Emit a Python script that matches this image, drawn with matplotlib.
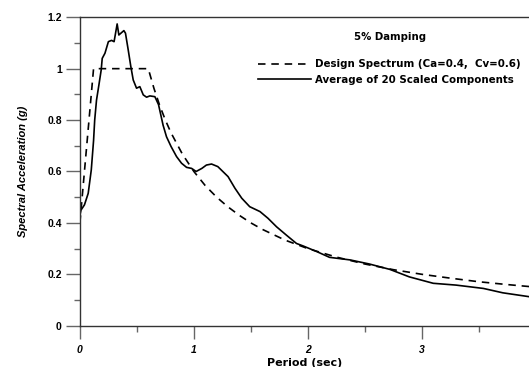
import matplotlib
matplotlib.use("Agg")
import matplotlib.pyplot as plt
from matplotlib.ticker import MultipleLocator

plt.rcParams['font.family'] = ['Liberation Sans', 'DejaVu Sans']

# Design spectrum (Ca=0.4, Cv=0.6)
design_T = [0.0, 0.12, 0.6, 0.65, 0.7, 0.75, 0.8, 0.9, 1.0, 1.1, 1.2, 1.3, 1.4, 1.5, 1.6,
            1.8, 2.0, 2.25, 2.5, 2.75, 3.0, 3.25, 3.5, 3.75, 4.0]
design_Sa = [0.40, 1.00, 1.00, 0.923, 0.857, 0.80, 0.75, 0.667, 0.60, 0.545, 0.50, 0.462,
             0.429, 0.40, 0.375, 0.333, 0.30, 0.267, 0.24, 0.218, 0.20, 0.185, 0.171,
             0.16, 0.15]

# Average of 20 scaled components
avg_T = [0.0, 0.01, 0.04, 0.073, 0.10, 0.12, 0.13, 0.146, 0.167, 0.187, 0.196, 0.22,
         0.25, 0.278, 0.30, 0.313, 0.327, 0.342, 0.36, 0.386, 0.40, 0.424, 0.447,
         0.468, 0.497, 0.526, 0.556, 0.585, 0.614, 0.658, 0.69, 0.73, 0.76, 0.80,
         0.848, 0.892, 0.936, 0.98, 1.02, 1.07, 1.11, 1.155, 1.21, 1.30, 1.36, 1.42,
         1.49, 1.58, 1.65, 1.725, 1.81, 1.90, 1.96, 2.08, 2.19, 2.37, 2.54, 2.72,
         2.89, 3.10, 3.30, 3.54, 3.71, 3.94]
avg_Sa = [0.43, 0.45, 0.47, 0.515, 0.606, 0.72, 0.80, 0.878, 0.937, 0.995, 1.04, 1.06,
          1.105, 1.11, 1.105, 1.138, 1.174, 1.131, 1.138, 1.148, 1.138, 1.073, 1.008,
          0.956, 0.924, 0.93, 0.898, 0.889, 0.894, 0.891, 0.86, 0.78, 0.735, 0.697,
          0.658, 0.632, 0.616, 0.612, 0.60, 0.612, 0.625, 0.629, 0.619, 0.58, 0.535,
          0.496, 0.463, 0.444, 0.418, 0.385, 0.353, 0.32, 0.31, 0.288, 0.266, 0.256,
          0.24, 0.219, 0.19, 0.165, 0.158, 0.145, 0.128, 0.113]

x_ticks = [0, 1, 2, 3]
y_ticks = [0, 0.2, 0.4, 0.6, 0.8, 1.0, 1.2]
y_ticklabels = ['0', '0.2', '0.4', '0.6', '0.8', '1', '1.2']

fig = plt.figure(figsize=(5.29, 3.67), dpi=100)
ax = fig.add_axes([0.151, 0.1125, 0.849, 0.8405])

ax.plot(design_T, design_Sa, color='black', lw=1.2, linestyle=(0, (4.5, 3.5)),
        label='Design Spectrum (Ca=0.4,  Cv=0.6)')
ax.plot(avg_T, avg_Sa, color='black', lw=1.2,
        label='Average of 20 Scaled Components')

ax.set_xlim(0, 3.94)
ax.set_ylim(0, 1.2)
ax.set_xticks(x_ticks)
ax.set_xticklabels([str(t) for t in x_ticks], fontsize=7.5, fontweight='bold', fontstyle='italic')
ax.set_yticks(y_ticks)
ax.set_yticklabels(y_ticklabels, fontsize=7.5, fontweight='bold')
ax.xaxis.set_minor_locator(MultipleLocator(0.5))
ax.yaxis.set_minor_locator(MultipleLocator(0.1))
ax.tick_params(axis='both', which='major', direction='out', length=10, width=1.0,
               color='#666666', pad=3)
ax.tick_params(axis='x', which='major', length=9, pad=5)
ax.tick_params(axis='both', which='minor', direction='out', length=4, width=1.0,
               color='#666666')

for s in ['left', 'bottom', 'top']:
    ax.spines[s].set_color('#333333')
    ax.spines[s].set_linewidth(1.0)
ax.spines['right'].set_visible(False)

ax.set_xlabel('Period (sec)', fontsize=8, fontweight='bold', labelpad=2,
              family=['DejaVu Sans'])
ax.set_ylabel('Spectral Acceleration (g)', fontsize=8, fontweight='bold',
              fontstyle='italic', labelpad=14)

ax.text(0.69, 0.937, '5% Damping', transform=ax.transAxes, fontsize=7.3,
        fontweight='bold', ha='center', va='center', family=['DejaVu Sans'])
leg = ax.legend(loc='upper left', bbox_to_anchor=(0.396, 0.864), frameon=False,
                prop={'size': 7.4, 'weight': 'bold', 'family': 'DejaVu Sans'},
                handlelength=5.2, handletextpad=0.36, labelspacing=0.55,
                borderaxespad=0, borderpad=0)

fig.savefig('out.png', dpi=100)
